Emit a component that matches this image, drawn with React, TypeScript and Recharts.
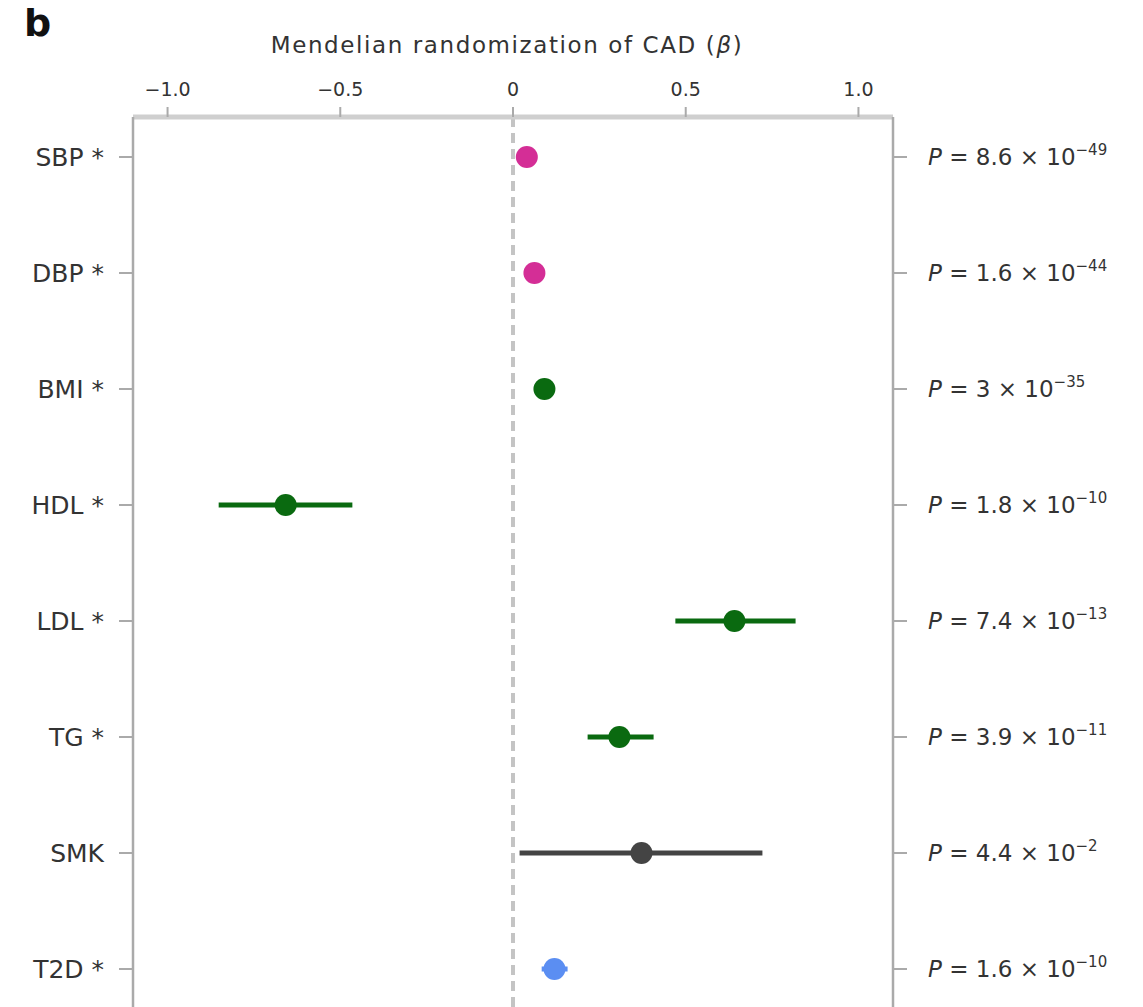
import { ErrorBar, ReferenceLine, Scatter, ScatterChart, XAxis, YAxis } from "recharts";

const traits = ["SBP *", "DBP *", "BMI *", "HDL *", "LDL *", "TG *", "SMK", "T2D *"];
const beta = [0.04, 0.062, 0.091, -0.658, 0.641, 0.308, 0.372, 0.12];
const ciLow = [0.025, 0.047, 0.076, -0.852, 0.47, 0.216, 0.019, 0.083];
const ciHigh = [0.055, 0.077, 0.106, -0.465, 0.818, 0.407, 0.722, 0.158];
const colors = ["#d42e96", "#d42e96", "#0a6a10", "#0a6a10", "#0a6a10", "#0a6a10", "#444444", "#5b8ef2"];
const pMantissa = ["8.6", "1.6", "3", "1.8", "7.4", "3.9", "4.4", "1.6"];
const pExponent = ["−49", "−44", "−35", "−10", "−13", "−11", "−2", "−10"];
const xTicks = [-1, -0.5, 0, 0.5, 1];

const rows = traits.map((t, i) => ({
  trait: t,
  x: beta[i],
  y: i,
  err: [beta[i] - ciLow[i], ciHigh[i] - beta[i]],
}));

const FONT = "'DejaVu Sans', Verdana, sans-serif";
const yDomain = [-0.345, 7.6];
const yTicks = traits.map((_, i) => i);

function fmtX(v: number) {
  if (v === 0) return "0";
  return (v < 0 ? "−" : "") + Math.abs(v).toFixed(1);
}

function PTick(props: any) {
  const { x, y, payload } = props;
  const i = payload.value;
  return (
    <text x={x} y={y} dy={8} fontSize={23} fill="#333" fontFamily={FONT}>
      <tspan fontStyle="italic">P</tspan>
      <tspan> = {pMantissa[i]} × 10</tspan>
      <tspan dy={-10} fontSize={15}>{pExponent[i]}</tspan>
    </text>
  );
}

function Dot(color: string) {
  return (p: any) => <circle cx={p.cx} cy={p.cy} r={11} fill={color} />;
}

function TitleLabel(props: any) {
  const vb = props.viewBox;
  return (
    <text
      x={vb.x + vb.width / 2 - 6}
      y={53}
      textAnchor="middle"
      fontSize={23}
      letterSpacing={1.6}
      fill="#333"
      fontFamily={FONT}
    >
      Mendelian randomization of CAD (<tspan fontStyle="italic">β</tspan>)
    </text>
  );
}

export default function App() {
  return (
    <div style={{ position: "relative", width: 1143, height: 1007, overflow: "hidden", background: "#fff" }}>
      <style>{"body{margin:0;overflow:hidden}"}</style>
      <div style={{ position: "absolute", left: 24, top: 4, fontFamily: FONT, fontWeight: 700, fontSize: 38, color: "#111", lineHeight: 1 }}>
        b
      </div>
      <ScatterChart width={1143} height={1040} margin={{ top: 60, right: 0, bottom: 1.4, left: 0 }}>
        <XAxis
          type="number"
          dataKey="x"
          orientation="top"
          height={57}
          domain={[-1.1, 1.1]}
          ticks={xTicks}
          tickFormatter={fmtX}
          allowDataOverflow
          axisLine={{ stroke: "#cfcfcf", strokeWidth: 5 }}
          tickLine={{ stroke: "#aaa", strokeWidth: 2 }}
          tickSize={10}
          tickMargin={11}
          tick={{ fontSize: 19, fill: "#333", fontFamily: FONT }}
          label={<TitleLabel />}
        />
        <YAxis
          yAxisId="left"
          type="number"
          dataKey="y"
          width={133}
          domain={yDomain}
          reversed
          ticks={yTicks}
          tickFormatter={(v: number) => traits[v]}
          allowDataOverflow
          axisLine={{ stroke: "#aaa", strokeWidth: 2.5 }}
          tickLine={{ stroke: "#aaa", strokeWidth: 2 }}
          tickSize={14}
          tickMargin={15}
          tick={{ fontSize: 25, fill: "#333", fontFamily: FONT }}
        />
        <YAxis
          yAxisId="right"
          orientation="right"
          type="number"
          dataKey="y"
          width={250}
          domain={yDomain}
          reversed
          ticks={yTicks}
          allowDataOverflow
          axisLine={{ stroke: "#aaa", strokeWidth: 2.5 }}
          tickLine={{ stroke: "#aaa", strokeWidth: 2 }}
          tickSize={14}
          tickMargin={21}
          tick={<PTick />}
        />
        <ReferenceLine yAxisId="left" x={0} stroke="#c4c4c4" strokeWidth={4} strokeDasharray="10 6" />
        {rows.map((r, i) => (
          <Scatter
            key={r.trait}
            yAxisId="left"
            data={[r]}
            fill={colors[i]}
            shape={Dot(colors[i])}
            isAnimationActive={false}
          >
            <ErrorBar dataKey="err" direction="x" width={0} stroke={colors[i]} strokeWidth={5} />
          </Scatter>
        ))}
      </ScatterChart>
    </div>
  );
}
